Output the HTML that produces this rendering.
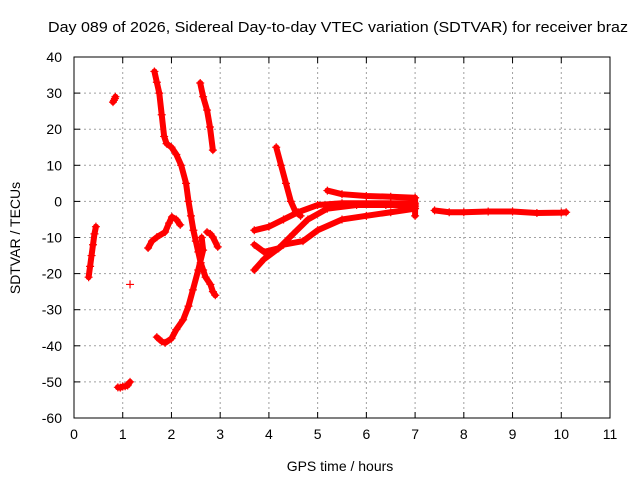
<!DOCTYPE html>
<html><head><meta charset="utf-8"><style>
body{margin:0;background:#fff}
text{font-family:"Liberation Sans",sans-serif;font-size:14px;fill:#000}
</style></head><body>
<svg id="chart" width="640" height="480" xmlns="http://www.w3.org/2000/svg">
<text x="48" y="32" textLength="580" lengthAdjust="spacingAndGlyphs" style="font-size:15px">Day 089 of 2026, Sidereal Day-to-day VTEC variation (SDTVAR) for receiver braz</text>
<text x="340" y="471" text-anchor="middle">GPS time / hours</text>
<text x="0" y="0" text-anchor="middle" transform="translate(20,238) rotate(-90)">SDTVAR / TECUs</text>
<g id="grid"></g><g id="axes"></g><g id="marks"></g>
</svg>
<script>
const xTicks=[0,1,2,3,4,5,6,7,8,9,10,11];
const yTicks=[40,30,20,10,0,-10,-20,-30,-40,-50,-60];
const traceAx=[0.3,0.33,0.36,0.39,0.42,0.45];
const traceAy=[-21,-18,-15,-12,-9,-7];
const traceBx=[0.8,0.82,0.84,0.85];
const traceBy=[27.5,28,28.5,29];
const traceCx=[0.9,0.95,1.0,1.05,1.1,1.15];
const traceCy=[-51.5,-51.6,-51.3,-51.2,-51,-50];
const traceDx=[1.15];
const traceDy=[-23];
const traceEx=[1.65,1.7,1.75,1.8,1.85,1.9,2.0,2.1,2.2,2.3,2.35,2.4,2.45,2.5,2.55,2.6,2.65,2.7,2.8,2.85,2.9];
const traceEy=[36,33,30,24,18,16,15,13,10,5,0,-4,-8,-11,-14,-17,-19,-21,-23,-25,-26];
const traceFx=[1.7,1.8,1.87,2.0,2.1,2.24,2.35,2.44,2.55,2.65,2.62];
const traceFy=[-37.6,-38.8,-39.2,-38,-35.5,-32.8,-29,-24.5,-19,-13.5,-10];
const traceGx=[1.52,1.6,1.7,1.87,1.95,2.01,2.1,2.18];
const traceGy=[-12.9,-11,-9.9,-8.5,-6,-4.3,-5,-6.5];
const traceHx=[2.59,2.65,2.73,2.79,2.85];
const traceHy=[32.8,29,25.3,20.6,14.2];
const traceIx=[2.73,2.8,2.85,2.95];
const traceIy=[-8.5,-9,-9.9,-12.6];
const traceJx=[4.15,4.25,4.35,4.45,4.55,4.65];
const traceJy=[15,10,5,0,-3,-4];
const traceKx=[3.7,4.0,4.3,4.6,5.0,5.5,6.0,6.5,7.0];
const traceKy=[-8,-7,-5,-3,-1,-0.5,-0.5,-0.5,-0.5];
const traceLx=[5.2,5.5,6.0,6.5,7.0];
const traceLy=[3,2,1.5,1.3,1];
const traceMx=[3.7,3.9,4.2,4.5,4.8,5.2,5.8,6.4,7.0];
const traceMy=[-12,-14,-13,-9,-5,-2,-1,-1,-1];
const traceNx=[3.7,3.9,4.3,4.7,5.0,5.5,6.0,6.5,7.0];
const traceNy=[-19,-16,-12,-11,-8,-5,-4,-3,-2];
const traceOx=[7.0,7.0,7.0];
const traceOy=[-4,-1.5,1];
const tracePx=[7.4,7.7,8.0,8.5,9.0,9.5,10.0,10.1];
const tracePy=[-2.5,-3,-3,-2.8,-2.8,-3.2,-3.1,-3];
const traces=[[traceAx,traceAy],[traceBx,traceBy],[traceCx,traceCy],[traceDx,traceDy],[traceEx,traceEy],[traceFx,traceFy],[traceGx,traceGy],[traceHx,traceHy],[traceIx,traceIy],[traceJx,traceJy],[traceKx,traceKy],[traceLx,traceLy],[traceMx,traceMy],[traceNx,traceNy],[traceOx,traceOy],[tracePx,tracePy]];

const L=74,R=610,T=57,B=418;
const sx=v=>L+(v-0)/(11-0)*(R-L);
const sy=v=>T+(40-v)/(100)*(B-T);
const NS="http://www.w3.org/2000/svg";
function mk(tag,attrs,parent){const e=document.createElementNS(NS,tag);for(const k in attrs)e.setAttribute(k,attrs[k]);parent.appendChild(e);return e;}
const grid=document.getElementById('grid'),axes=document.getElementById('axes'),marks=document.getElementById('marks');
xTicks.forEach(t=>{
  const x=sx(t);
  if(t>0&&t<11){const g=mk('line',{x1:x,x2:x,y1:T,y2:B,stroke:'#a0a0a0','stroke-dasharray':'2,3'},grid);
  
  }
  mk('line',{x1:x,x2:x,y1:B,y2:B-6,stroke:'#000'},axes);
  mk('line',{x1:x,x2:x,y1:T,y2:T+6,stroke:'#000'},axes);
  const tx=mk('text',{x:x,y:B+21,'text-anchor':'middle'},axes);tx.textContent=t;
  
  
});
yTicks.forEach(t=>{
  const y=sy(t);
  if(t<40&&t>-60){const g=mk('line',{x1:L,x2:R,y1:y,y2:y,stroke:'#a0a0a0','stroke-dasharray':'2,3'},grid);
  
  }
  mk('line',{x1:L,x2:L+6,y1:y,y2:y,stroke:'#000'},axes);
  mk('line',{x1:R,x2:R-6,y1:y,y2:y,stroke:'#000'},axes);
  const tx=mk('text',{x:L-12,y:y+5,'text-anchor':'end'},axes);tx.textContent=t;
  
  
});
const fr=mk('rect',{x:L,y:T,width:R-L,height:B-T,fill:'none',stroke:'#000'},axes);


traces.forEach(([xs,ys])=>{
  const pts=xs.map((v,i)=>sx(v)+','+sy(ys[i])).join(' ');
  if(xs.length>1){const pl=mk('polyline',{points:pts,fill:'none',stroke:'#f00','stroke-width':6,'stroke-linejoin':'round','stroke-linecap':'round'},marks);
  
  }
  xs.forEach((v,i)=>{const x=sx(v),y=sy(ys[i]);
    const p=mk('path',{d:`M${x-4},${y}h8M${x},${y-4}v8`,stroke:'#f00','stroke-width':1.2},marks);
    
    
  });
});
</script>
</body></html>
